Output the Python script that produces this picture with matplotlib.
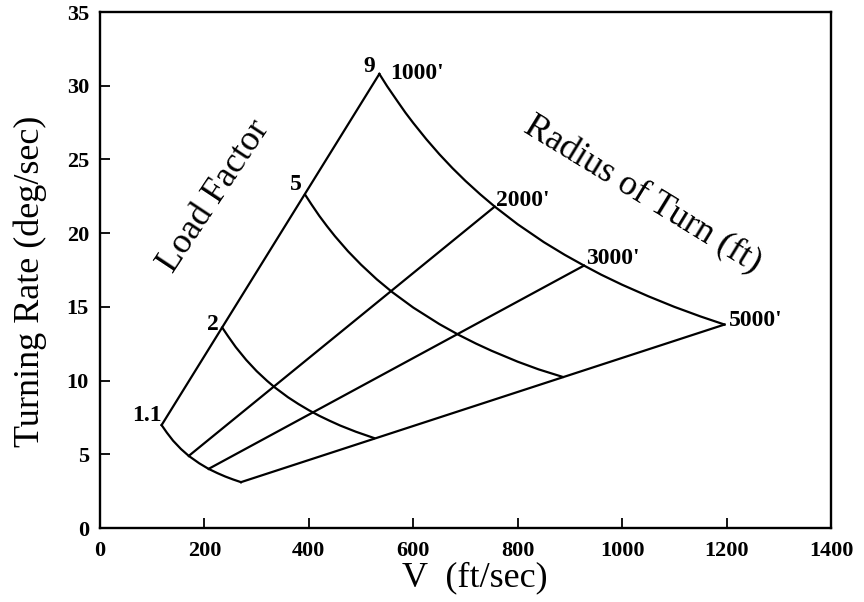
import matplotlib
matplotlib.use("Agg")
import matplotlib.pyplot as plt

# ---- data ----
# Constant load-factor curves: (V ft/s, turn rate deg/s)
n11_v = [118, 128, 140, 155, 170, 190, 208, 225, 240, 255, 270]
n11_w = [6.98, 6.47, 5.92, 5.36, 4.89, 4.39, 4.01, 3.72, 3.49, 3.29, 3.11]

n2_v = [234, 245, 260, 280, 300, 320, 335, 360, 380, 400, 420, 440, 460, 490, 525]
n2_w = [13.6, 13.02, 12.27, 11.4, 10.64, 9.98, 9.53, 8.87, 8.41, 7.99, 7.61, 7.27, 6.95, 6.53, 6.1]

n5_v = [393, 405, 420, 435, 450, 475, 500, 530, 560, 600, 650, 688, 720, 750, 800, 840, 886]
n5_w = [22.6, 21.95, 21.17, 20.46, 19.79, 18.77, 17.86, 16.87, 15.99, 14.95, 13.83, 13.08, 12.51, 12.02, 11.28, 10.76, 10.25]

n9_v = [535, 550, 570, 585, 600, 625, 650, 675, 700, 728, 756, 800, 850, 890, 927, 960, 1000, 1050, 1100, 1150, 1196]
n9_w = [30.8, 29.96, 28.93, 28.17, 27.47, 26.37, 25.35, 24.41, 23.54, 22.64, 21.8, 20.6, 19.39, 18.53, 17.8, 17.18, 16.5, 15.72, 15.0, 14.35, 13.8]

# Constant radius-of-turn lines (end points)
r1000_v = [118, 535]
r1000_w = [6.98, 30.8]
r2000_v = [170, 756]
r2000_w = [4.89, 21.8]
r3000_v = [208, 927]
r3000_w = [4.01, 17.8]
r5000_v = [270, 1196]
r5000_w = [3.11, 13.8]

load_labels = ["1.1", "2", "5", "9"]
radius_labels = ["1000'", "2000'", "3000'", "5000'"]

x_ticks = [0, 200, 400, 600, 800, 1000, 1200, 1400]
y_ticks = [0, 5, 10, 15, 20, 25, 30, 35]

# ---- figure ----
plt.rcParams['font.family'] = ['Liberation Serif', 'DejaVu Serif']
fig = plt.figure(figsize=(8.64, 6.02), dpi=100)
ax = fig.add_axes([100/864, 1-528/602, 731/864, 516/602])

lw = 1.6
for v, w in [(n11_v, n11_w), (n2_v, n2_w), (n5_v, n5_w), (n9_v, n9_w),
             (r1000_v, r1000_w), (r2000_v, r2000_w), (r3000_v, r3000_w),
             (r5000_v, r5000_w)]:
    ax.plot(v, w, color='black', lw=lw, solid_joinstyle='round')

ax.set_xlim(0, 1400)
ax.set_ylim(0, 35)
ax.set_xticks(x_ticks)
ax.set_yticks(y_ticks)
ax.tick_params(direction='in', length=7, width=1.3, labelsize=16)
ax.tick_params(axis='x', pad=9)
ax.tick_params(axis='y', pad=8)
for lab in ax.get_xticklabels() + ax.get_yticklabels():
    lab.set_fontweight('bold')
for s in ax.spines.values():
    s.set_linewidth(1.7)

# load factor labels
lbl_kw = dict(fontsize=17, fontweight='bold', color='black')
ax.text(119, 7.6, load_labels[0], ha='right', va='center', **lbl_kw)
ax.text(216, 13.8, load_labels[1], ha='center', va='center', **lbl_kw)
ax.text(376, 23.3, load_labels[2], ha='center', va='center', **lbl_kw)
ax.text(515, 31.3, load_labels[3], ha='center', va='center', **lbl_kw)

# radius labels
ax.text(556, 30.8, radius_labels[0], ha='left', va='center', **lbl_kw)
ax.text(758, 22.2, radius_labels[1], ha='left', va='center', **lbl_kw)
ax.text(931, 18.3, radius_labels[2], ha='left', va='center', **lbl_kw)
ax.text(1204, 14.1, radius_labels[3], ha='left', va='center', **lbl_kw)

# family labels
ax.text(219, 22.5, "Load Factor", rotation=56.5, rotation_mode='anchor',
        ha='center', va='center', fontsize=26)
ax.text(1038, 22.6, "Radius of Turn (ft)", rotation=-31.5, rotation_mode='anchor',
        ha='center', va='center', fontsize=26)

# axis labels
fig.text(30/864, 1-281/602, "Turning Rate (deg/sec)", rotation=90,
         ha='center', va='center', fontsize=26)
fig.text(475/864, 1-578/602, "V  (ft/sec)", ha='center', va='center', fontsize=26)

fig.savefig("out.png", dpi=100)
